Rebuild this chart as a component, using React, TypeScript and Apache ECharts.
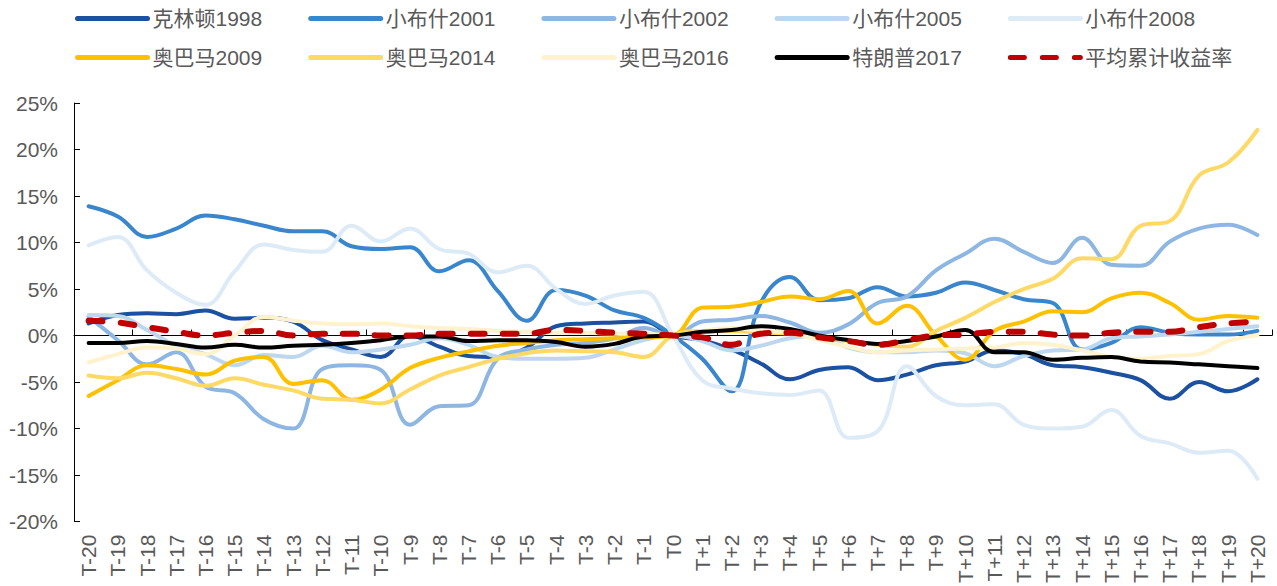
import React, { useEffect, useRef } from "react";
import * as echarts from "echarts";

const categories = [
  "T-20","T-19","T-18","T-17","T-16","T-15","T-14","T-13","T-12","T-11","T-10",
  "T-9","T-8","T-7","T-6","T-5","T-4","T-3","T-2","T-1","T0",
  "T+1","T+2","T+3","T+4","T+5","T+6","T+7","T+8","T+9","T+10",
  "T+11","T+12","T+13","T+14","T+15","T+16","T+17","T+18","T+19","T+20",
];

const clinton1998 = [1.3, 2.2, 2.4, 2.3, 2.7, 1.8, 1.9, 1.5, -0.5, -1.5, -2.3, 0.0, -1.2, -2.2, -2.3, -1.3, 1.0, 1.3, 1.4, 1.5,
  0,
  -0.5, -1.5, -3.0, -4.7, -3.7, -3.4, -4.8, -4.2, -3.2, -2.8, -1.6, -2.0, -3.2, -3.4, -4.0, -4.8, -6.8, -5.0, -6.0, -4.7];
const bush2001 = [13.9, 12.8, 10.6, 11.5, 12.9, 12.5, 11.8, 11.2, 11.2, 9.6, 9.3, 9.5, 6.9, 8.1, 4.8, 1.6, 4.9, 4.3, 2.7, 1.9,
  0,
  -2.5, -6.0, 3.5, 6.3, 3.8, 4.0, 5.2, 4.2, 4.6, 5.7, 4.9, 3.9, 3.5, -1.5, -0.8, 0.9, 0.3, 0.1, 0.1, 0.5];
const bush2002 = [2.0, -0.5, -3.1, -1.8, -5.5, -6.2, -9.0, -10.0, -3.6, -3.2, -3.7, -9.6, -7.6, -7.5, -2.5, -1.5, -1.0, -0.8, -0.3, 0.8,
  0,
  1.5, 1.7, 2.1, 1.4, 0.3, 1.2, 3.5, 4.2, 7.0, 8.8, 10.4, 9.0, 7.8, 10.5, 7.6, 7.5, 10.1, 11.5, 11.9, 10.8];
const bush2005 = [2.2, 2.1, 0.6, -1.1, -2.0, -3.2, -2.1, -2.3, -1.1, -1.8, -1.5, -1.0, -0.3, -1.0, -2.3, -2.5, -2.5, -2.4, -1.5, -0.5,
  0,
  -0.6, -1.6, -1.1, -0.3, 0.0, -1.3, -1.8, -1.8, -1.6, -1.9, -3.3, -2.2, -1.6, -1.5, -0.3, -0.1, 0.1, 0.4, 0.7, 1.0];
const bush2008 = [9.7, 10.6, 7.0, 4.6, 3.3, 6.9, 9.8, 9.2, 9.0, 11.8, 10.1, 11.5, 9.3, 8.8, 6.8, 7.5, 5.0, 3.4, 4.3, 4.7,
  0,
  -4.8, -5.7, -6.2, -6.4, -5.9, -11.0, -10.3, -3.3, -6.5, -7.5, -7.4, -9.6, -10.0, -9.8, -8.0, -10.8, -11.6, -12.6, -12.4, -15.4];
const obama2009 = [-6.5, -4.8, -3.2, -3.6, -4.2, -2.7, -2.3, -5.2, -4.8, -6.9, -5.8, -3.5, -2.4, -1.7, -1.1, -0.8, -0.5, -0.4, -0.3, -0.2,
  0,
  3.0, 3.1, 3.6, 4.2, 3.9, 4.8, 1.3, 3.2, 0.0, -2.6, 0.5, 1.5, 2.6, 2.5, 4.0, 4.6, 3.5, 1.7, 2.1, 1.9];
const obama2014 = [-4.3, -4.6, -4.0, -4.6, -5.4, -4.6, -5.3, -5.9, -6.8, -6.9, -7.3, -5.8, -4.3, -3.4, -2.5, -1.9, -1.6, -1.7, -1.8, -2.3,
  0,
  0.5, 0.5, 0.3, 0.2, -0.3, -0.6, -1.0, -1.2, 0.5, 1.9, 3.6, 5.0, 6.1, 8.3, 8.2, 11.8, 12.3, 17.2, 18.6, 22.1];
const obama2016 = [-2.9, -2.0, -1.3, -1.4, -2.0, 0.0, 2.0, 1.6, 1.3, 1.2, 1.3, 1.0, 0.8, 0.7, 0.5, 0.4, 0.3, 0.3, 0.2, 0.2,
  0,
  0.5, 0.8, 0.5, 0.3, -0.5, -1.2, -1.8, -1.6, -1.5, -1.4, -1.3, -0.8, -1.0, -1.6, -2.3, -2.5, -2.2, -2.0, -0.6, 0.0];
const trump2017 = [-0.8, -0.8, -0.6, -0.9, -1.3, -1.0, -1.3, -1.1, -1.0, -0.8, -0.5, -0.1, -0.1, -0.6, -0.5, -0.5, -0.7, -1.2, -0.9, -0.1,
  0,
  0.4, 0.6, 1.0, 0.7, 0.0, -0.5, -0.9, -0.6, -0.1, 0.6, -1.8, -1.8, -2.6, -2.4, -2.3, -2.8, -2.9, -3.1, -3.3, -3.5];
const average = [1.6, 1.4, 0.9, 0.4, 0.0, 0.3, 0.5, 0.0, 0.2, 0.2, 0.0, 0.0, 0.2, 0.2, 0.2, 0.2, 0.6, 0.5, 0.3, 0.2,
  0,
  -0.2, -1.0, 0.2, 0.3, -0.2, -0.6, -1.0, -0.5, 0.0, 0.1, 0.4, 0.4, 0.1, 0.0, 0.3, 0.4, 0.4, 0.9, 1.3, 1.5];

const seriesNames = ["克林顿1998", "小布什2001", "小布什2002", "小布什2005", "小布什2008",
  "奥巴马2009", "奥巴马2014", "奥巴马2016", "特朗普2017", "平均累计收益率"];
const seriesData = [clinton1998, bush2001, bush2002, bush2005, bush2008, obama2009, obama2014, obama2016, trump2017, average];
const seriesColors = ["#1B51A0", "#3A86CC", "#8DB7E2", "#BDD7EE", "#DDEBF7",
  "#FFC000", "#FFD966", "#FFF2CC", "#000000", "#C00000"];

const FONT = "'Liberation Sans', Arial, 'Noto Sans CJK SC', sans-serif";
const TEXT_COLOR = "#595959";

export default function App() {
  const ref = useRef<HTMLDivElement>(null);
  useEffect(() => {
    if (!ref.current) return;
    const chart = echarts.init(ref.current, undefined, { renderer: "svg" });
    const series = seriesNames.map((name, i) => {
      const isAvg = i === seriesNames.length - 1;
      return {
        name,
        type: "line",
        data: seriesData[i],
        xAxisIndex: 0,
        yAxisIndex: 0,
        smooth: 0.4,
        symbol: "none",
        lineStyle: isAvg
          ? { color: seriesColors[i], width: 6, type: [14, 18], cap: "round" }
          : { color: seriesColors[i], width: 4, cap: "round" },
        itemStyle: { color: seriesColors[i] },
        z: 2 + i,
      };
    });
    const legendBase = {
      orient: "horizontal",
      left: 70,
      itemWidth: 70,
      itemHeight: 14,
      itemGap: 46,
      itemTextGap: 8,
      itemStyle: { opacity: 0 },
      lineStyle: { width: 5, cap: "round" },
      textStyle: { fontSize: 21, color: TEXT_COLOR, fontFamily: FONT },
    };
    chart.setOption({
      animation: false,
      textStyle: { fontFamily: FONT },
      legend: [
        { ...legendBase, top: 3, data: seriesNames.slice(0, 5) },
        { ...legendBase, top: 42, data: seriesNames.slice(5) },
      ],
      grid: { left: 74, right: 5, top: 103, bottom: 60, containLabel: false },
      xAxis: [
        {
          type: "category",
          data: categories,
          position: "bottom",
          boundaryGap: true,
          axisLine: { show: false, onZero: false },
          axisTick: { show: false },
          axisLabel: {
            rotate: 90,
            interval: 0,
            margin: 13,
            fontSize: 21,
            color: TEXT_COLOR,
            fontFamily: FONT,
          },
          splitLine: { show: false },
        },
        {
          type: "category",
          data: categories,
          position: "top",
          boundaryGap: true,
          axisLine: { show: true, onZero: true, onZeroAxisIndex: 0, lineStyle: { color: "#000", width: 1 } },
          axisTick: { show: true, inside: false, length: 6, lineStyle: { color: "#000", width: 1 } },
          axisLabel: { show: false },
          splitLine: { show: false },
        },
      ],
      yAxis: {
        type: "value",
        min: -20,
        max: 25,
        interval: 5,
        axisLine: { show: true, lineStyle: { color: "#000", width: 1 } },
        axisTick: { show: true, inside: true, length: 6, lineStyle: { color: "#000" } },
        axisLabel: {
          formatter: "{value}%",
          fontSize: 21,
          color: TEXT_COLOR,
          fontFamily: FONT,
          margin: 16,
        },
        splitLine: { show: false },
      },
      series,
    });
    return () => chart.dispose();
  }, []);
  return (
    <div
      ref={ref}
      style={{ position: "fixed", left: 0, top: 0, width: 1277, height: 586, background: "#fff" }}
    />
  );
}
